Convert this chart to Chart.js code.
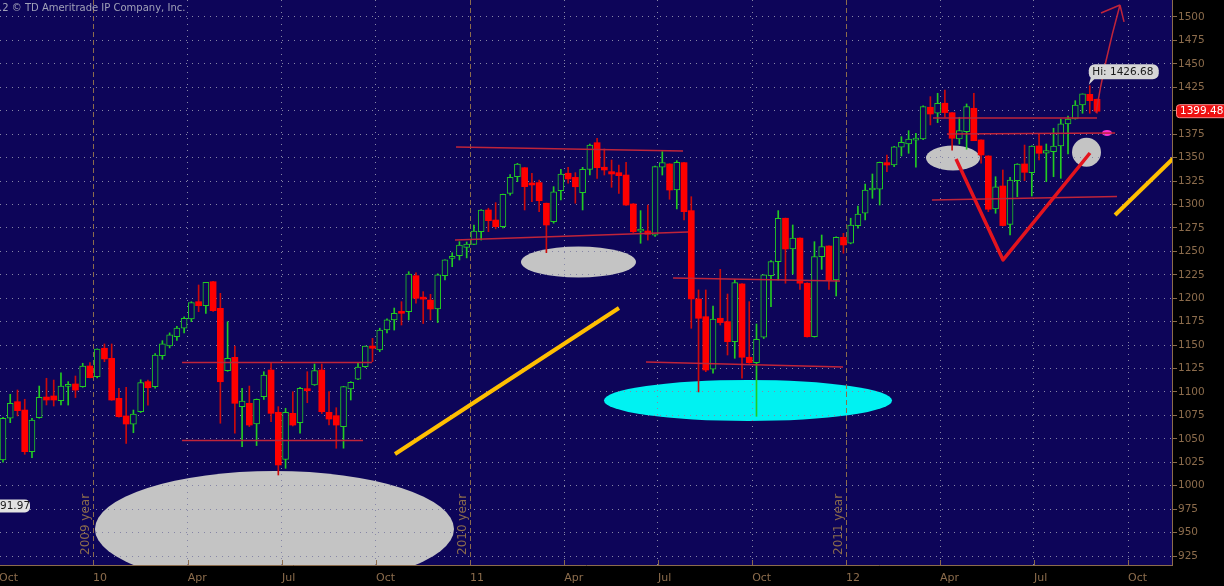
<!DOCTYPE html>
<html>
<head>
<meta charset="utf-8">
<script src="https://cdn.jsdelivr.net/npm/chart.js@4"></script>
<style>
  html, body { margin: 0; padding: 0; background: #000; }
  canvas { display: block; }
</style>
</head>
<body>
<canvas id="myChart" width="1224" height="586"></canvas>
<script>
// weekly candles, Oct 2009 - Aug 2012 (one entry per week)
const opens = [1027.4,1071.9,1089.6,1080.7,1036.3,1072.5,1094.6,1095.7,1090.7,1106,1108.5,1105.6,1127.7,1116.3,1146.6,1135.9,1093.2,1074.4,1065.5,1078.9,
  1111,1105.6,1138.7,1149,1159,1167.9,1177.8,1196.3,1192,1217.6,1189.2,1122.7,1136.9,1084.3,1087.9,1065.8,1094.9,1123.4,1078.3,1028.1,
  1077.2,1067.2,1103.5,1107.4,1123.4,1078.3,1074.7,1063,1103.1,1113.5,1126.9,1149,1144.8,1166.1,1176.8,1185.6,1185.6,1224,1201,1198,
  1188.5,1224,1242.5,1245.4,1254.3,1257.5,1270.9,1294.1,1283.4,1276.3,1311.9,1329.6,1339.2,1322.6,1323.3,1301.3,1281.6,1314.7,1333.3,1328.9,
  1312.6,1337.5,1365.9,1339.7,1335,1333.9,1331.4,1300.5,1271.6,1271.7,1267.2,1339.7,1343.2,1315.4,1344.6,1293.4,1199.2,1180.3,1124.2,1178.6,
  1175,1153.6,1215.2,1137,1131.2,1158.3,1224,1239.1,1285.3,1252.5,1264.1,1216,1158.9,1244.3,1255.7,1219.4,1265,1258.6,1277.3,1290.6,
  1315.4,1316.2,1344.6,1342.1,1361,1364.5,1368.6,1369.8,1403.7,1397.3,1408,1397.9,1369.8,1377.6,1402.6,1368.8,1351.7,1295.2,1319.7,1278.8,
  1325.4,1343.2,1333.9,1362.4,1354.6,1356.3,1362.4,1385.9,1391.2,1406.1,1417.5,1412.2];
const highs = [1073,1097.5,1102.1,1092.2,1071.9,1106.3,1114.6,1112.7,1120.5,1111,1117,1130.6,1131.2,1146,1151.2,1151.2,1103.9,1104.9,1080.7,1113,
  1112.7,1141,1154.7,1163,1170,1180,1196.3,1214.1,1217,1218,1205.2,1174.9,1149,1103.9,1106.3,1092.5,1121.6,1131.2,1084.3,1082.6,
  1100.3,1105,1121.6,1129.8,1129.8,1100.3,1083.2,1106,1111,1130.6,1149,1157.2,1168,1178,1189.5,1196.3,1228.3,1227,1207,1204.2,
  1226,1241,1248.5,1260.3,1260,1278.1,1294.5,1296,1301.9,1311,1332,1343.9,1339.5,1333.2,1326.1,1301.5,1319,1337.5,1339.6,1333.9,
  1339.6,1364.5,1370.6,1359.2,1347.4,1342.1,1345,1301,1293.4,1299.4,1341,1356.3,1343.5,1346.7,1345,1308.3,1208.8,1208.8,1191.7,1230.8,
  1204.5,1220,1215.5,1196.3,1172.5,1225,1240,1293.4,1285.5,1278.1,1264.5,1216.5,1260.3,1267.4,1256,1265.5,1269.2,1285.3,1298.4,1321.8,
  1332.5,1345.2,1352.8,1362,1372.3,1378.7,1376,1405.3,1415,1418.6,1422.1,1398,1393,1407.2,1418.6,1369,1352,1329.6,1336.8,1329,
  1343.5,1363.4,1362.6,1375.2,1364.5,1381.3,1390.9,1394.4,1410.7,1418,1426.68,1412.5];
const lows = [1025,1067.2,1074.4,1033.5,1029.9,1072,1086.1,1085,1086.1,1086,1094,1105,1115,1115,1132.3,1091,1073,1045.2,1056.5,1078,
  1086,1104,1134.8,1147,1155,1163,1175,1185.6,1183.9,1186,1066.6,1122,1055.9,1041.7,1063,1042.8,1092,1068.3,1011.4,1018.5,
  1063.7,1055.9,1088.5,1107,1077,1064.7,1039.9,1040,1091.4,1113,1126,1132.3,1143,1163,1166,1171.4,1176.8,1194.6,1173,1176.8,
  1174,1219.4,1233.6,1240.8,1243,1257,1262,1271,1274,1275,1310,1324.3,1294.1,1303,1292.3,1248.6,1280,1304.8,1322.6,1301.3,
  1294.1,1331.4,1327.9,1331.4,1318.3,1311.9,1299,1270,1258.6,1262,1266,1331.4,1305.5,1295.2,1283.4,1167.9,1100,1121.6,1120,1171.4,
  1139.4,1135.9,1114.6,1130.6,1074,1157,1190.9,1219.4,1216,1225.8,1209.5,1158.5,1158.5,1230.8,1209.5,1202.4,1248,1258,1274.6,1283.4,
  1306.6,1299.4,1334.9,1340.3,1351.7,1354.6,1339.7,1369,1384.8,1387.3,1393,1358,1364.5,1358.9,1368,1344,1292.3,1290.6,1277,1267.4,
  1308.3,1325.4,1309,1347.4,1324.3,1329.6,1327.9,1353.8,1391,1397.3,1397.3,1397.3];
const closes = [1071.9,1087.9,1080,1036.3,1070.1,1094.3,1091.4,1091.4,1106.3,1107,1102,1127.7,1115.2,1145.8,1135.2,1091.4,1073.6,1065.8,1076.5,1109.9,
  1104.5,1139.4,1151.2,1160.8,1168,1178.6,1195.2,1192,1217,1186.7,1110.9,1135.9,1087.9,1090.3,1064.7,1092.2,1118.1,1077.2,1022.1,1078.3,
  1064.7,1103.9,1101.3,1122.7,1078.9,1071.1,1064.7,1105.6,1110.3,1126.4,1149,1146.6,1166.1,1176.9,1183.9,1183.9,1225.8,1199.9,1199,1188.5,
  1224.8,1240.8,1244.3,1256.8,1257.8,1271.7,1294.1,1282.7,1276.3,1310.9,1329,1343.2,1319,1320.8,1304,1278.1,1313.6,1332.5,1327.2,1318.9,
  1337.5,1363.4,1339.2,1336.8,1332.5,1330.7,1299.4,1270.9,1273.8,1268.2,1340.4,1344.6,1315.4,1345,1292.3,1199.2,1178.6,1123.4,1177.8,1174,
  1153.6,1216.6,1137,1131.2,1156.2,1224.8,1239.1,1285.3,1252.5,1264.1,1216,1158.9,1244.3,1255,1219.4,1265,1256.8,1278.1,1289.8,1315.4,
  1317.3,1345,1342.1,1361.6,1366.3,1369.8,1370.6,1404.3,1396.5,1408,1398,1370.6,1378.7,1404.3,1368,1352.8,1294.9,1318.9,1277.5,1326.1,
  1343.2,1334.3,1362.4,1354.6,1357.4,1362.4,1385.9,1391.2,1406.1,1417.9,1410.7,1399.48];

// x axis: quarter marks, in weeks counted from the first candle
const tickWeeks = [-0.55,12.42,25.5,38.5,51.48,64.46,77.45,90.4,103.4,116.36,129.33,142.3,155.28];
const tickLabels = ['Oct','10','Apr','Jul','Oct','11','Apr','Jul','Oct','12','Apr','Jul','Oct'];
const yearMarks = [12.42, 64.46, 116.36];
const yearNames = ['2009 year', '2010 year', '2011 year'];
// price axis labels
const priceTicks = [];
for (let p = 925; p <= 1500; p += 25) priceTicks.push(p);

// hand drawn markup, in chart units (week, price)
const ellipses = [
  {x: 37.47, y: 953.8, rx: 24.78, ry: 61.9, color: '#c4c4c4'},
  {x: 79.43, y: 1238.6, rx: 7.94, ry: 16.5, color: '#c4c4c4'},
  {x: 102.83, y: 1090.9, rx: 19.88, ry: 21.9, color: '#00f2f2'},
  {x: 131.12, y: 1349.6, rx: 3.73, ry: 13.3, color: '#c4c4c4'},
  {x: 149.55, y: 1355.7, rx: 2.0, ry: 15.5, color: '#c4c4c4'},
  {x: 152.38, y: 1376.3, rx: 0.69, ry: 3.2, color: '#ff30d0'}
];
const thinLines = [
  [[24.71,1131.4],[50.93,1131.4]],
  [[24.71,1048.2],[49.69,1048.2]],
  [[62.53,1361.3],[93.86,1357.0]],
  [[62.39,1262.1],[94.55,1270.6]],
  [[92.48,1221.6],[115.53,1218.4]],
  [[88.75,1131.9],[115.94,1126.6]],
  [[128.36,1392.3],[151.0,1392.3]],
  [[130.3,1375.2],[153.49,1376.3]],
  [[128.22,1304.8],[153.76,1308.5]]
];
const yellowLines = [
  [[54.11,1033.8],[85.02,1189.6]],
  [[153.49,1288.8],[163.15,1361.3]]
];
const redV = [[131.54,1348.5],[138.03,1240.8],[150.03,1354.9]];
const arrow = {from: [150.86,1397.6], tip: [154.17,1512.8], barbs: [[151.55,1504.3],[154.73,1494.7]]};

const plotBg = '#0d0559';
const dotColor = '#8686a6';
const brown = '#8c6c4c';
const upColor = '#22cc22';
const downColor = '#ff0000';
const downWick = '#cc0a0a';

const weeks = opens.map((o, i) => i);
const isUp = i => closes[i] >= opens[i];

const markup = {
  id: 'markup',
  beforeDraw(chart) {
    const {ctx, chartArea: a, scales: {x, y}} = chart;
    ctx.save();
    ctx.fillStyle = '#000';
    ctx.fillRect(0, 0, chart.width, chart.height);
    ctx.fillStyle = plotBg;
    ctx.fillRect(a.left, a.top, a.right - a.left, a.bottom - a.top);
    ctx.beginPath();
    ctx.rect(a.left, a.top, a.right - a.left, a.bottom - a.top);
    ctx.clip();
    ellipses.forEach(e => {
      const cx = x.getPixelForValue(e.x), cy = y.getPixelForValue(e.y);
      const rx = Math.abs(x.getPixelForValue(e.x + e.rx) - cx);
      const ry = Math.abs(y.getPixelForValue(e.y + e.ry) - cy);
      ctx.fillStyle = e.color;
      ctx.beginPath();
      ctx.ellipse(cx, cy, rx, ry, 0, 0, Math.PI * 2);
      ctx.fill();
    });
    ctx.restore();
  },
  beforeDatasetsDraw(chart) {
    const {ctx, chartArea: a, scales: {x}} = chart;
    ctx.save();
    // year separators
    ctx.strokeStyle = brown;
    ctx.lineWidth = 1;
    ctx.setLineDash([5, 3]);
    yearMarks.forEach(w => {
      const px = Math.round(x.getPixelForValue(w)) + 0.5;
      ctx.beginPath();
      ctx.moveTo(px, a.top);
      ctx.lineTo(px, a.bottom);
      ctx.stroke();
    });
    ctx.setLineDash([]);
    // small tick marks on the bottom border
    tickWeeks.forEach(w => {
      const px = Math.round(x.getPixelForValue(w)) + 0.5;
      if (px < a.left) return;
      ctx.beginPath();
      ctx.moveTo(px, a.bottom - 5);
      ctx.lineTo(px, a.bottom);
      ctx.stroke();
    });
    // year names
    ctx.fillStyle = brown;
    ctx.font = '12px "DejaVu Sans"';
    ctx.textAlign = 'left';
    ctx.textBaseline = 'middle';
    yearMarks.forEach((w, k) => {
      const px = x.getPixelForValue(w);
      ctx.save();
      ctx.translate(px - 7, a.bottom - 10);
      ctx.rotate(-Math.PI / 2);
      ctx.fillText(yearNames[k], 0, 0);
      ctx.restore();
    });
    ctx.restore();
  },
  afterDatasetsDraw(chart) {
    const {ctx, chartArea: a, scales: {x, y}} = chart;
    const P = pt => [x.getPixelForValue(pt[0]), y.getPixelForValue(pt[1])];
    ctx.save();
    ctx.beginPath();
    ctx.rect(a.left, a.top, a.right - a.left, a.bottom - a.top);
    ctx.clip();

    ctx.strokeStyle = '#c0243a';
    ctx.lineWidth = 1.5;
    thinLines.forEach(l => {
      const p1 = P(l[0]), p2 = P(l[1]);
      ctx.beginPath();
      ctx.moveTo(p1[0], p1[1]);
      ctx.lineTo(p2[0], p2[1]);
      ctx.stroke();
    });

    ctx.strokeStyle = '#ffbf00';
    ctx.lineWidth = 4;
    yellowLines.forEach(l => {
      const p1 = P(l[0]), p2 = P(l[1]);
      ctx.beginPath();
      ctx.moveTo(p1[0], p1[1]);
      ctx.lineTo(p2[0], p2[1]);
      ctx.stroke();
    });

    ctx.strokeStyle = '#e4141e';
    ctx.lineWidth = 3.5;
    ctx.lineJoin = 'round';
    ctx.beginPath();
    redV.forEach((pt, k) => {
      const p = P(pt);
      if (k === 0) ctx.moveTo(p[0], p[1]); else ctx.lineTo(p[0], p[1]);
    });
    ctx.stroke();

    // arrow
    ctx.strokeStyle = '#c0243a';
    ctx.lineWidth = 1.5;
    const f = P(arrow.from), t = P(arrow.tip);
    ctx.beginPath();
    ctx.moveTo(f[0], f[1]);
    ctx.quadraticCurveTo(f[0] + 8, f[1] - 50, t[0], t[1]);
    arrow.barbs.forEach(b => {
      const pb = P(b);
      ctx.moveTo(t[0], t[1]);
      ctx.lineTo(pb[0], pb[1]);
    });
    ctx.stroke();

    // high callout
    let hi = 0;
    highs.forEach((h, i) => { if (h > highs[hi]) hi = i; });
    const hx = x.getPixelForValue(hi), hy = y.getPixelForValue(highs[hi]);
    ctx.fillStyle = '#d6d6d6';
    ctx.beginPath();
    ctx.roundRect(hx - 1, hy - 21.5, 70, 15, 6);
    ctx.fill();
    ctx.beginPath();
    ctx.moveTo(hx + 1, hy - 8);
    ctx.lineTo(hx - 1, hy - 1);
    ctx.lineTo(hx + 6, hy - 8);
    ctx.fill();
    ctx.fillStyle = '#1a1a1a';
    ctx.font = '10.5px "DejaVu Sans"';
    ctx.textAlign = 'left';
    ctx.textBaseline = 'middle';
    ctx.fillText('Hi: ' + highs[hi].toFixed(2), hx + 2.5, hy - 13.8);

    // low callout at the left edge
    const ly = y.getPixelForValue(978.3);
    ctx.fillStyle = '#e2e2e2';
    ctx.beginPath();
    ctx.roundRect(a.left - 8, ly - 6.5, 38, 13, 5);
    ctx.fill();
    ctx.fillStyle = '#1a1a1a';
    ctx.fillText('91.97', a.left, ly + 0.5);

    // copyright line
    ctx.fillStyle = '#a2a2b8';
    ctx.font = '10px "DejaVu Sans"';
    ctx.fillText('.2 \u00a9 TD Ameritrade IP Company, Inc.', a.left - 1, 8);
    ctx.restore();
  },
  afterDraw(chart) {
    const {ctx, chartArea: a, scales: {y}} = chart;
    const last = closes[closes.length - 1];
    const py = y.getPixelForValue(last);
    ctx.save();
    ctx.fillStyle = '#ee1010';
    ctx.strokeStyle = '#ff8a8a';
    ctx.lineWidth = 1;
    ctx.beginPath();
    ctx.roundRect(a.right + 4.5, py - 6.5, 60, 13, 3);
    ctx.fill();
    ctx.stroke();
    ctx.fillStyle = '#ffffff';
    ctx.font = '10.5px "DejaVu Sans"';
    ctx.textBaseline = 'middle';
    ctx.fillText(last.toFixed(2), a.right + 8, py + 0.5);
    ctx.restore();
  }
};

const ctx = document.getElementById('myChart').getContext('2d');
const myChart = new Chart(ctx, {
  type: 'bar',
  data: {
    datasets: [{
      label: 'body',
      data: weeks.map(i => ({x: i, y: [Math.min(opens[i], closes[i]), Math.max(opens[i], closes[i])]})),
      backgroundColor: c => isUp(c.dataIndex) ? plotBg : downColor,
      borderColor: c => isUp(c.dataIndex) ? upColor : downColor,
      borderWidth: c => isUp(c.dataIndex) ? 1 : 0,
      borderSkipped: false,
      barThickness: 6,
      minBarLength: 2,
      grouped: false,
      order: 0
    }, {
      label: 'wick',
      data: weeks.map(i => ({x: i, y: [lows[i], highs[i]]})),
      backgroundColor: c => isUp(c.dataIndex) ? upColor : downWick,
      borderWidth: 0,
      barThickness: 1,
      grouped: false,
      order: 1
    }]
  },
  options: {
    responsive: false,
    animation: false,
    events: [],
    layout: { padding: 0 },
    plugins: { legend: { display: false }, tooltip: { enabled: false } },
    font: { family: '"DejaVu Sans"' },
    scales: {
      x: {
        type: 'linear',
        position: 'bottom',
        min: -0.414,
        max: 161.35,
        offset: false,
        afterBuildTicks: s => { s.ticks = tickWeeks.map(v => ({value: v})); },
        afterFit: s => { s.height = 21; s.paddingLeft = 0; s.paddingRight = 0; },
        ticks: {
          autoSkip: false,
          maxRotation: 0,
          minRotation: 0,
          align: 'start',
          padding: 7,
          color: brown,
          font: { family: '"DejaVu Sans"', size: 11 },
          callback: (v, i) => tickLabels[i]
        },
        grid: {
          offset: false,
          drawTicks: false,
          lineWidth: 1,
          color: c => (c.tick && yearMarks.includes(c.tick.value)) ? 'rgba(0,0,0,0)' : dotColor
        },
        border: { display: true, color: brown, width: 1, dash: [1, 5] }
      },
      y: {
        type: 'linear',
        position: 'right',
        min: 915.4,
        max: 1518.1,
        afterBuildTicks: s => { s.ticks = priceTicks.map(v => ({value: v})); },
        afterFit: s => { s.width = 52; s.paddingTop = 0; s.paddingBottom = 0; },
        ticks: {
          padding: 1,
          color: brown,
          font: { family: '"DejaVu Sans"', size: 10.5 },
          callback: v => String(v)
        },
        grid: {
          color: dotColor,
          lineWidth: 1,
          drawTicks: true,
          tickLength: 5,
          tickColor: brown,
          tickWidth: 1
        },
        border: { display: true, color: brown, width: 1, dash: [1, 5] }
      }
    }
  },
  plugins: [markup]
});
</script>
</body>
</html>
